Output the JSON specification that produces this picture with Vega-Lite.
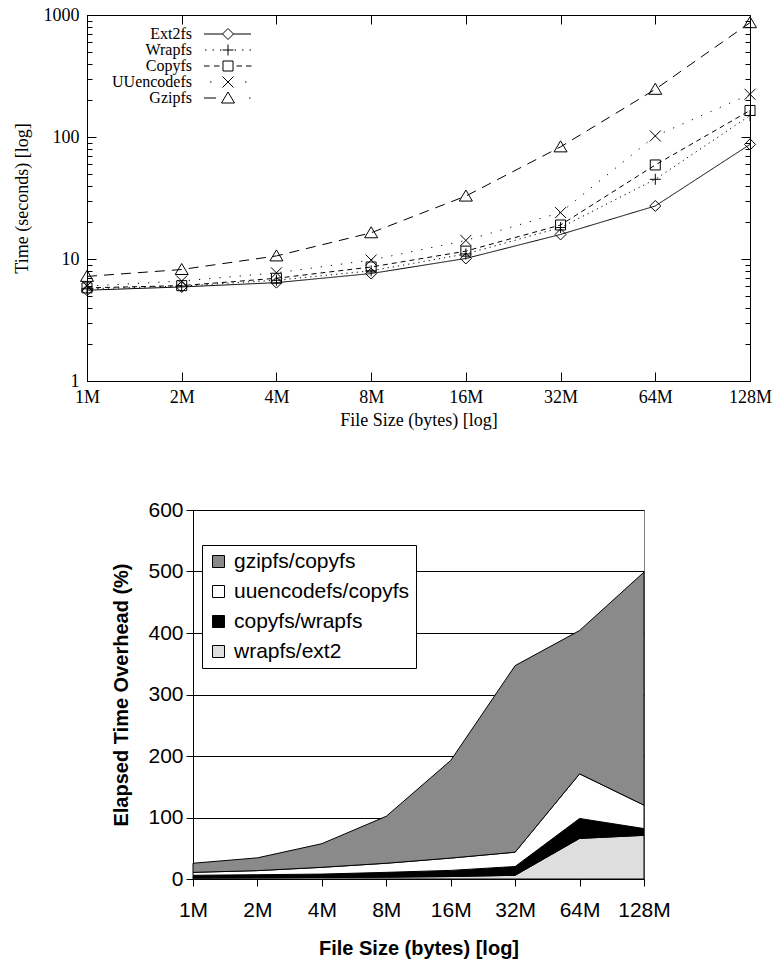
{
  "$schema": "https://vega.github.io/schema/vega-lite/v6.json",
  "padding": {"left": 12, "top": 5, "right": 0, "bottom": 0},
  "background": "white",
  "center": true,
  "bounds": "flush",
  "spacing": 129,
  "resolve": {
    "scale": {"shape": "independent", "fill": "independent", "strokeDash": "independent", "color": "independent"},
    "legend": {"shape": "independent", "fill": "independent", "strokeDash": "independent", "color": "independent"}
  },
  "datasets": {
    "times": [
      {"size": 1, "series": "Ext2fs", "time": 5.55},
      {"size": 2, "series": "Ext2fs", "time": 5.9},
      {"size": 4, "series": "Ext2fs", "time": 6.4},
      {"size": 8, "series": "Ext2fs", "time": 7.6},
      {"size": 16, "series": "Ext2fs", "time": 10.1},
      {"size": 32, "series": "Ext2fs", "time": 15.9},
      {"size": 64, "series": "Ext2fs", "time": 27.2},
      {"size": 128, "series": "Ext2fs", "time": 87},
      {"size": 1, "series": "Wrapfs", "time": 5.7},
      {"size": 2, "series": "Wrapfs", "time": 6.0},
      {"size": 4, "series": "Wrapfs", "time": 6.7},
      {"size": 8, "series": "Wrapfs", "time": 8.0},
      {"size": 16, "series": "Wrapfs", "time": 11.0},
      {"size": 32, "series": "Wrapfs", "time": 18.1},
      {"size": 64, "series": "Wrapfs", "time": 45},
      {"size": 128, "series": "Wrapfs", "time": 150},
      {"size": 1, "series": "Copyfs", "time": 5.8},
      {"size": 2, "series": "Copyfs", "time": 6.05},
      {"size": 4, "series": "Copyfs", "time": 6.95},
      {"size": 8, "series": "Copyfs", "time": 8.6},
      {"size": 16, "series": "Copyfs", "time": 11.6},
      {"size": 32, "series": "Copyfs", "time": 19.0},
      {"size": 64, "series": "Copyfs", "time": 59},
      {"size": 128, "series": "Copyfs", "time": 165},
      {"size": 1, "series": "UUencodefs", "time": 6.0},
      {"size": 2, "series": "UUencodefs", "time": 6.6},
      {"size": 4, "series": "UUencodefs", "time": 7.7},
      {"size": 8, "series": "UUencodefs", "time": 9.8},
      {"size": 16, "series": "UUencodefs", "time": 14.2},
      {"size": 32, "series": "UUencodefs", "time": 24},
      {"size": 64, "series": "UUencodefs", "time": 102},
      {"size": 128, "series": "UUencodefs", "time": 224},
      {"size": 1, "series": "Gzipfs", "time": 7.2},
      {"size": 2, "series": "Gzipfs", "time": 8.2},
      {"size": 4, "series": "Gzipfs", "time": 10.6},
      {"size": 8, "series": "Gzipfs", "time": 16.4},
      {"size": 16, "series": "Gzipfs", "time": 32.8},
      {"size": 32, "series": "Gzipfs", "time": 83},
      {"size": 64, "series": "Gzipfs", "time": 246},
      {"size": 128, "series": "Gzipfs", "time": 865}
    ],
    "overhead": [
      {"size": 1, "series": "wrapfs/ext2", "order": 1, "value": 1.6},
      {"size": 2, "series": "wrapfs/ext2", "order": 1, "value": 2},
      {"size": 4, "series": "wrapfs/ext2", "order": 1, "value": 2.5},
      {"size": 8, "series": "wrapfs/ext2", "order": 1, "value": 3},
      {"size": 16, "series": "wrapfs/ext2", "order": 1, "value": 4},
      {"size": 32, "series": "wrapfs/ext2", "order": 1, "value": 6},
      {"size": 64, "series": "wrapfs/ext2", "order": 1, "value": 66},
      {"size": 128, "series": "wrapfs/ext2", "order": 1, "value": 71},
      {"size": 1, "series": "copyfs/wrapfs", "order": 2, "value": 4.4},
      {"size": 2, "series": "copyfs/wrapfs", "order": 2, "value": 5},
      {"size": 4, "series": "copyfs/wrapfs", "order": 2, "value": 5.5},
      {"size": 8, "series": "copyfs/wrapfs", "order": 2, "value": 7.8},
      {"size": 16, "series": "copyfs/wrapfs", "order": 2, "value": 10},
      {"size": 32, "series": "copyfs/wrapfs", "order": 2, "value": 14.3},
      {"size": 64, "series": "copyfs/wrapfs", "order": 2, "value": 32.4},
      {"size": 128, "series": "copyfs/wrapfs", "order": 2, "value": 11},
      {"size": 1, "series": "uuencodefs/copyfs", "order": 3, "value": 4.8},
      {"size": 2, "series": "uuencodefs/copyfs", "order": 3, "value": 6.6},
      {"size": 4, "series": "uuencodefs/copyfs", "order": 3, "value": 11},
      {"size": 8, "series": "uuencodefs/copyfs", "order": 3, "value": 14.8},
      {"size": 16, "series": "uuencodefs/copyfs", "order": 3, "value": 20},
      {"size": 32, "series": "uuencodefs/copyfs", "order": 3, "value": 23.3},
      {"size": 64, "series": "uuencodefs/copyfs", "order": 3, "value": 72.6},
      {"size": 128, "series": "uuencodefs/copyfs", "order": 3, "value": 38},
      {"size": 1, "series": "gzipfs/copyfs", "order": 4, "value": 14.8},
      {"size": 2, "series": "gzipfs/copyfs", "order": 4, "value": 20.8},
      {"size": 4, "series": "gzipfs/copyfs", "order": 4, "value": 38.4},
      {"size": 8, "series": "gzipfs/copyfs", "order": 4, "value": 76.4},
      {"size": 16, "series": "gzipfs/copyfs", "order": 4, "value": 158.7},
      {"size": 32, "series": "gzipfs/copyfs", "order": 4, "value": 303.4},
      {"size": 64, "series": "gzipfs/copyfs", "order": 4, "value": 233},
      {"size": 128, "series": "gzipfs/copyfs", "order": 4, "value": 379}
    ]
  },
  "vconcat": [
    {
      "width": 663,
      "height": 366,
      "view": {"stroke": "black", "strokeWidth": 1},
      "data": {"name": "times"},
      "layer": [
        {
          "mark": {"type": "line", "color": "black", "strokeWidth": 1},
          "encoding": {
            "x": {
              "field": "size", "type": "quantitative",
              "scale": {"type": "log", "base": 2, "domain": [1, 128]},
              "axis": {
                "orient": "bottom",
                "values": [1, 2, 4, 8, 16, 32, 64, 128],
                "labelExpr": "datum.value + 'M'",
                "title": "File Size (bytes) [log]",
                "labelFont": "Liberation Serif", "labelFontSize": 18, "labelColor": "black",
                "titleFont": "Liberation Serif", "titleFontSize": 18, "titleFontWeight": "normal", "titleColor": "black",
                "labelPadding": 7, "titlePadding": 5,
                "tickSize": 0, "tickColor": "black", "domainColor": "black",
                "labelFlush": false, "labelOverlap": false, "grid": false,
                "encoding": {"ticks": {"y2": {"value": -9}}}
              }
            },
            "y": {
              "field": "time", "type": "quantitative",
              "scale": {"type": "log", "domain": [1, 1000]},
              "axis": {
                "orient": "left",
                "values": [1, 2, 3, 4, 5, 6, 7, 8, 9, 10, 20, 30, 40, 50, 60, 70, 80, 90, 100, 200, 300, 400, 500, 600, 700, 800, 900, 1000],
                "labelExpr": "indexof([1, 10, 100, 1000], datum.value) >= 0 ? '' + datum.value : ''",
                "title": "Time (seconds) [log]",
                "labelFont": "Liberation Serif", "labelFontSize": 18, "labelColor": "black",
                "titleFont": "Liberation Serif", "titleFontSize": 18, "titleFontWeight": "normal", "titleColor": "black",
                "labelPadding": 8, "titlePadding": 12,
                "tickSize": 0, "tickColor": "black", "domainColor": "black",
                "labelFlush": false, "labelOverlap": false, "grid": false,
                "encoding": {"ticks": {"x2": {"condition": {"test": "indexof([1, 10, 100, 1000], datum.value) >= 0", "value": 9}, "value": 5}}}
              }
            },
            "strokeDash": {
              "field": "series", "type": "nominal",
              "scale": {
                "domain": ["Wrapfs", "Ext2fs", "Copyfs", "Gzipfs", "UUencodefs"],
                "range": [[1.2, 4], [1, 0], [5, 4], [10, 7], [1.2, 9]]
              },
              "legend": null
            }
          }
        },
        {
          "mark": {"type": "point", "filled": false, "strokeWidth": 1, "size": 100, "opacity": 1},
          "encoding": {
            "x": {
              "field": "size", "type": "quantitative",
              "scale": {"type": "log", "base": 2, "domain": [1, 128]},
              "axis": {
                "orient": "top",
                "values": [1, 2, 4, 8, 16, 32, 64, 128],
                "labels": false, "title": null,
                "tickSize": 0, "tickColor": "black", "domainColor": "black", "grid": false,
                "encoding": {"ticks": {"y2": {"value": 9}}}
              }
            },
            "y": {
              "field": "time", "type": "quantitative",
              "scale": {"type": "log", "domain": [1, 1000]},
              "axis": {
                "orient": "right",
                "values": [1, 2, 3, 4, 5, 6, 7, 8, 9, 10, 20, 30, 40, 50, 60, 70, 80, 90, 100, 200, 300, 400, 500, 600, 700, 800, 900, 1000],
                "labels": false, "title": null,
                "tickSize": 0, "tickColor": "black", "domainColor": "black", "grid": false,
                "encoding": {"ticks": {"x2": {"condition": {"test": "indexof([1, 10, 100, 1000], datum.value) >= 0", "value": -9}, "value": -5}}}
              }
            },
            "shape": {
              "field": "series", "type": "nominal",
              "scale": {
                "domain": ["Gzipfs", "UUencodefs", "Copyfs", "Wrapfs", "Ext2fs"],
                "range": [
                  "M0,-1.2L1.3,1L-1.3,1Z",
                  "M-1.1,-1.1L1.1,1.1M1.1,-1.1L-1.1,1.1",
                  "M-1,-1H1V1H-1Z",
                  "M-1.1,0H1.1M0,-1.1V1.1",
                  "M0,-1.1L1.1,0L0,1.1L-1.1,0Z"
                ]
              },
              "legend": null
            },
            "color": {
              "field": "series", "type": "nominal",
              "scale": {
                "domain": ["Ext2fs", "Wrapfs", "Copyfs", "UUencodefs", "Gzipfs"],
                "range": ["black", "black", "black", "black", "black"]
              },
              "legend": {
                "orient": "none", "legendX": 133, "legendY": 11,
                "title": null, "padding": 0,
                "labelFont": "Liberation Serif", "labelFontSize": 16, "labelColor": "black",
                "symbolSize": 100, "symbolStrokeWidth": 1,
                "rowPadding": 0,
                "encoding": {
                  "symbols": {
                    "shape": {
                      "condition": [
                        {"test": "datum.value === 'Ext2fs'", "value": "M-4.8,0H-1.1M1.1,0H4.6M0,-1.1L1.1,0L0,1.1L-1.1,0Z"},
                        {"test": "datum.value === 'Wrapfs'", "value": "M-4.6,0h0.3M-3.1,0h0.3M-1.6,0h0.3M1.3,0h0.3M2.8,0h0.3M4.3,0h0.3M-1.1,0H1.1M0,-1.1V1.1"},
                        {"test": "datum.value === 'Copyfs'", "value": "M-4.8,0h1.1M-2.8,0h1.1M1.7,0h1.1M3.6,0h1.1M-1,-1H1V1H-1Z"},
                        {"test": "datum.value === 'UUencodefs'", "value": "M-3.6,0h0.3M3.4,0h0.3M-1.1,-1.1L1.1,1.1M1.1,-1.1L-1.1,1.1"}
                      ],
                      "value": "M-4.8,0h2.4M4.2,0h0.3M0,-1.2L1.3,1L-1.3,1Z"
                    },
                    "fill": {"value": "transparent"},
                    "strokeWidth": {"value": 1}
                  },
                  "labels": {
                    "x": {"value": -28},
                    "align": {"value": "right"}
                  }
                }
              }
            }
          }
        }
      ],
      "resolve": {"axis": {"x": "independent", "y": "independent"}}
    },
    {
      "width": 451,
      "height": 369,
      "view": {"stroke": "#808080", "strokeWidth": 1},
      "data": {"name": "overhead"},
      "mark": {"type": "area", "stroke": "black", "strokeWidth": 1, "opacity": 1},
      "encoding": {
        "x": {
          "field": "size", "type": "quantitative",
          "scale": {"type": "log", "base": 2, "domain": [1, 128]},
          "axis": {
            "values": [1, 2, 4, 8, 16, 32, 64, 128],
            "labelExpr": "datum.value + 'M'",
            "title": "File Size (bytes) [log]",
            "labelFont": "Liberation Sans", "labelFontSize": 21, "labelColor": "black",
            "titleFont": "Liberation Sans", "titleFontSize": 20, "titleFontWeight": "bold", "titleColor": "black",
            "tickSize": 7, "tickColor": "black", "domainColor": "black",
            "labelPadding": 13, "titlePadding": 18,
            "labelFlush": false, "labelOverlap": false, "grid": false
          }
        },
        "y": {
          "field": "value", "type": "quantitative", "stack": "zero",
          "scale": {"domain": [0, 600]},
          "axis": {
            "values": [0, 100, 200, 300, 400, 500, 600],
            "title": "Elapsed Time Overhead (%)",
            "labelFont": "Liberation Sans", "labelFontSize": 21, "labelColor": "black",
            "titleFont": "Liberation Sans", "titleFontSize": 20, "titleFontWeight": "bold", "titleColor": "black",
            "tickSize": 7, "tickColor": "black", "domainColor": "black",
            "labelPadding": 3, "titlePadding": 16,
            "grid": true, "gridColor": "black", "gridOpacity": 1, "gridWidth": 1,
            "labelOverlap": false
          }
        },
        "fill": {
          "field": "series", "type": "nominal",
          "scale": {
            "domain": ["gzipfs/copyfs", "uuencodefs/copyfs", "copyfs/wrapfs", "wrapfs/ext2"],
            "range": ["#8a8a8a", "#ffffff", "#000000", "#dedede"]
          },
          "legend": {
            "orient": "none", "legendX": 9, "legendY": 35,
            "title": null,
            "symbolType": "square", "symbolSize": 144,
            "symbolStrokeColor": "black", "symbolStrokeWidth": 1, "symbolOpacity": 1,
            "labelFont": "Liberation Sans", "labelFontSize": 21, "labelColor": "black",
            "labelOffset": 5, "labelLimit": 300,
            "rowPadding": 8, "padding": 6,
            "strokeColor": "black", "fillColor": "white"
          }
        },
        "order": {"field": "order", "type": "quantitative"}
      }
    }
  ]
}
